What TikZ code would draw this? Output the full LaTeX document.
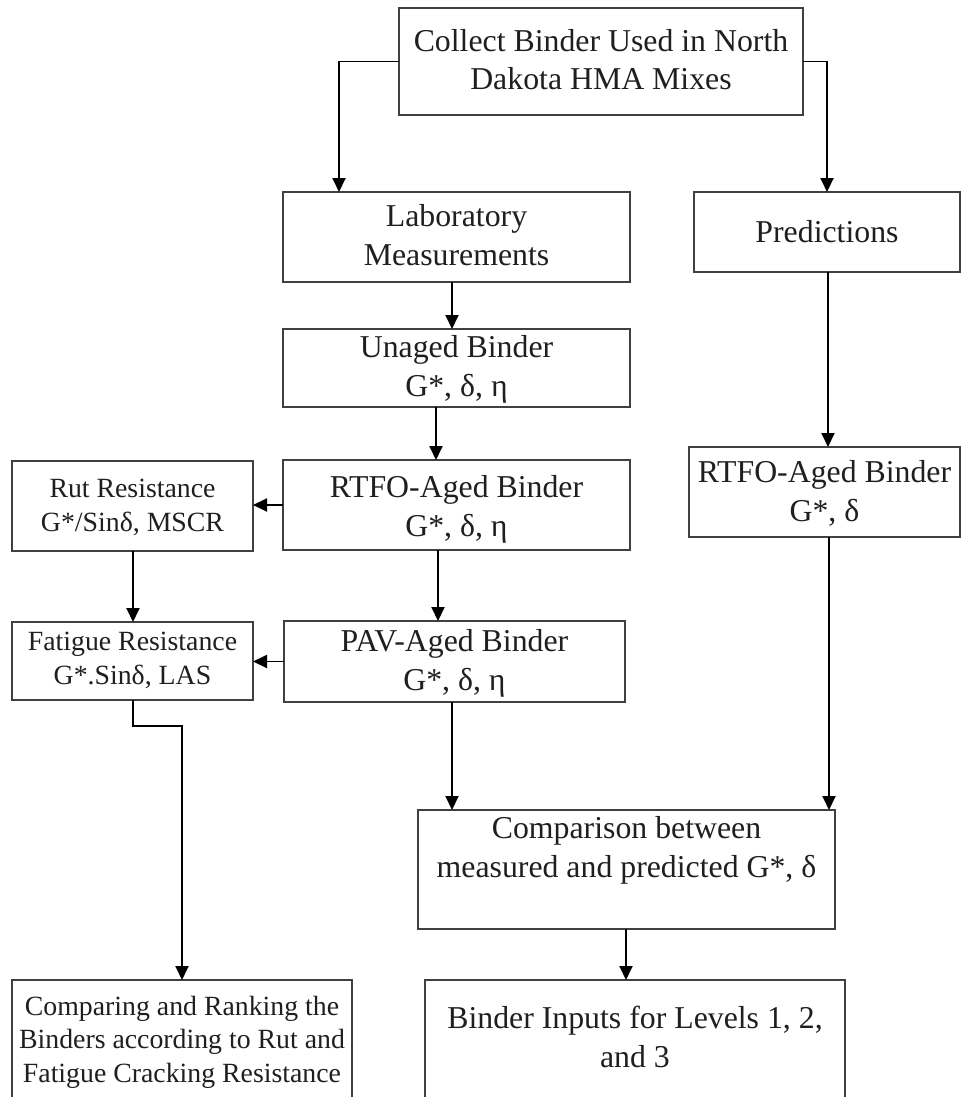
\documentclass[tikz,border=0pt]{standalone}
\usepackage{fontspec}
\setmainfont{Liberation Serif}
\usetikzlibrary{arrows.meta,calc}
\begin{document}
\begin{tikzpicture}[x=1pt,y=1pt,
  box/.style={draw=black!75,line width=1.8pt,rectangle,outer sep=0pt,inner sep=0pt,anchor=north west},
  bigtext/.style={font=\fontsize{31.8}{38.2}\selectfont,text=black!88,align=center,anchor=base,inner sep=0pt},
  smalltext/.style={font=\fontsize{27.8}{33.4}\selectfont,text=black!88,align=center,anchor=base,inner sep=0pt},
  arr/.style={draw=black,line width=1.9pt,-{Triangle[width=13pt,length=14pt]}},
  ln/.style={draw=black,line width=1.9pt}]
\clip (0,0) rectangle (962,-1097);
\fill[white] (0,0) rectangle (962,-1097);
% boxes
\node[box,minimum width=404,minimum height=107] (top) at (399,-8) {};
\node[box,minimum width=347,minimum height=90] (lab) at (283,-192) {};
\node[box,minimum width=266,minimum height=80] (pred) at (694,-192) {};
\node[box,minimum width=347,minimum height=78] (unaged) at (283,-329) {};
\node[box,minimum width=347,minimum height=90] (rtfo) at (283,-460) {};
\node[box,minimum width=241,minimum height=90] (rut) at (12,-461) {};
\node[box,minimum width=271,minimum height=90] (rtfor) at (689,-447) {};
\node[box,minimum width=241,minimum height=78] (fat) at (12,-622) {};
\node[box,minimum width=341,minimum height=81] (pav) at (284,-621) {};
\node[box,minimum width=417,minimum height=119] (comp) at (418,-810) {};
\node[box,minimum width=420,minimum height=140] (binp) at (425,-980) {};
\node[box,minimum width=340,minimum height=140] (rank) at (12,-980) {};
% texts (anchor base = baseline of the last line)
\node[bigtext] (ttop) at (601,-90) {Collect Binder Used in North\\Dakota HMA Mixes};
\node[bigtext] (tlab) at (456.5,-265) {Laboratory\\Measurements};
\node[bigtext] (tpred) at (827,-242) {Predictions};
\node[bigtext] (tunaged) at (456.5,-396) {Unaged Binder\\G*, δ, η};
\node[bigtext] (trtfo) at (456.5,-536) {RTFO-Aged Binder\\G*, δ, η};
\node[smalltext] (trut) at (132.5,-531) {Rut Resistance\\G*/Sinδ, MSCR};
\node[bigtext] (trtfor) at (824.5,-521) {RTFO-Aged Binder\\G*, δ};
\node[smalltext] (tfat) at (132.5,-684) {Fatigue Resistance\\G*.Sinδ, LAS};
\node[bigtext] (tpav) at (454.5,-690) {PAV-Aged Binder\\G*, δ, η};
\node[bigtext] (tcomp) at (626.5,-877) {Comparison between\\measured and predicted G*, δ};
\node[bigtext] (tbinp) at (635,-1067) {Binder Inputs for Levels 1, 2,\\and 3};
\node[smalltext] (trank) at (182,-1082) {Comparing and Ranking the\\Binders according to Rut and\\Fatigue Cracking Resistance};
% connectors
\draw[arr] (top.west) -| ($(lab.north west)+(56,0)$);
\draw[arr] (top.east) -| ($(pred.north west)+(133,0)$);
\draw[arr] ($(lab.south west)+(169,0)$) -- ($(unaged.north west)+(169,0)$);
\draw[arr] ($(unaged.south west)+(153,0)$) -- ($(rtfo.north west)+(153,0)$);
\draw[arr] (rtfo.west) -- (rtfo.west -| rut.east);
\draw[arr] ($(rtfo.south west)+(155,0)$) -- ($(pav.north west)+(154,0)$);
\draw[arr] ($(rut.south west)+(121,0)$) -- ($(fat.north west)+(121,0)$);
\draw[arr] (pav.west) -- (pav.west -| fat.east);
\draw[arr] ($(pred.south west)+(134,0)$) -- ($(rtfor.north west)+(139,0)$);
\draw[arr] ($(rtfor.south west)+(140,0)$) -- ($(comp.north west)+(411,0)$);
\draw[arr] ($(pav.south west)+(168,0)$) -- ($(comp.north west)+(34,0)$);
\draw[arr] ($(comp.south west)+(208,0)$) -- ($(binp.north west)+(201,0)$);
\coordinate (bend) at ($(fat.south west)+(121,-26)$);
\draw[arr] ($(fat.south west)+(121,0)$) -- (bend) -| ($(rank.north west)+(170,0)$);
\end{tikzpicture}
\end{document}
